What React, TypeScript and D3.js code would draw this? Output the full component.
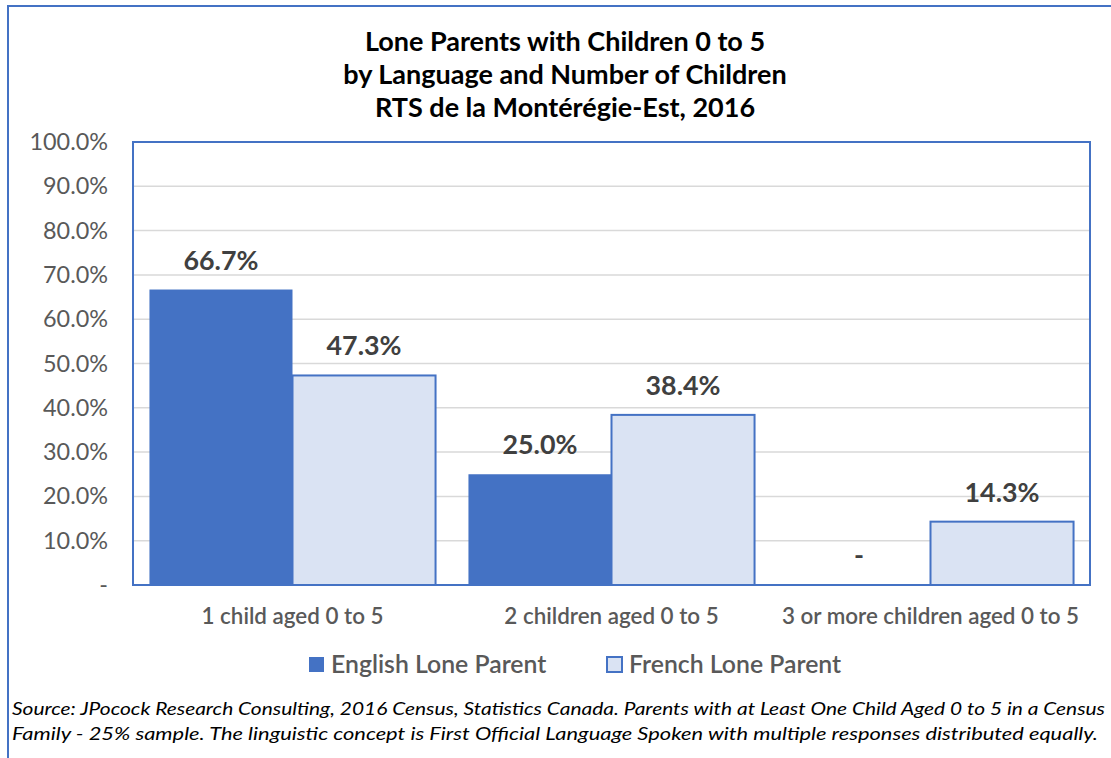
import React from "react";
import * as d3 from "d3";

const categories = ["1 child aged 0 to 5", "2 children aged 0 to 5", "3 or more children aged 0 to 5"];
const seriesNames = ["English Lone Parent", "French Lone Parent"];
const englishValues = [0.667, 0.25, 0];
const frenchValues = [0.473, 0.384, 0.143];
const yTicks = [0, 0.1, 0.2, 0.3, 0.4, 0.5, 0.6, 0.7, 0.8, 0.9, 1.0];
const titleLines = [
  "Lone Parents with Children 0 to 5",
  "by Language and Number of Children",
  "RTS de la Montérégie-Est, 2016",
];
const sourceLines = [
  "Source: JPocock Research Consulting, 2016 Census, Statistics Canada. Parents with at Least One Child Aged 0 to 5 in a Census",
  "Family - 25% sample. The linguistic concept is First Official Language Spoken with multiple responses distributed equally.",
];

const W = 1111;
const H = 758;
const BLUE = "#4472C4";
const LIGHT = "#DAE3F3";
const FONT = "Lato, 'Open Sans', sans-serif";

const plot = { left: 133, right: 1090, top: 142, bottom: 585 };

export default function App() {
  const x = d3.scaleBand<string>().domain(categories).range([plot.left, plot.right]).paddingInner(0).paddingOuter(0);
  const xs = d3.scaleBand<string>().domain(seriesNames).range([0, x.bandwidth()]).paddingInner(0).paddingOuter(0.115);
  const y = d3.scaleLinear().domain([0, 1]).range([plot.bottom, plot.top]);
  const tickFmt = (v: number) => (v === 0 ? "-" : d3.format(".1%")(v));
  const labelFmt = (v: number) => (v === 0 ? "-" : d3.format(".1%")(v));

  const series = [
    { name: seriesNames[0], values: englishValues, fill: BLUE, stroke: "none" },
    { name: seriesNames[1], values: frenchValues, fill: LIGHT, stroke: BLUE },
  ];

  const legendItems = [
    { name: seriesNames[0], fill: BLUE, stroke: "none", x: 309 },
    { name: seriesNames[1], fill: LIGHT, stroke: BLUE, x: 607 },
  ];

  return (
    <svg
      width={W}
      height={H}
      style={{ position: "absolute", left: 0, top: 0, display: "block", background: "#fff" }}
      fontFamily={FONT}
    >
      <rect x={0} y={0} width={W} height={H} fill="#fff" />
      {/* chart frame, cropped on the right and bottom */}
      <rect x={8} y={6} width={W + 50} height={H + 50} fill="none" stroke={BLUE} strokeWidth={2} />

      {/* title */}
      {titleLines.map((t, i) => (
        <text key={i} x={565} y={51 + i * 33} textAnchor="middle" fontSize={27} fontWeight={700} fill="#000">
          {t}
        </text>
      ))}

      {/* gridlines */}
      {yTicks.filter((v) => v > 0 && v < 1).map((v) => (
        <line key={v} x1={plot.left} x2={plot.right} y1={y(v)} y2={y(v)} stroke="#d9d9d9" strokeWidth={1.5} />
      ))}

      {/* y tick labels */}
      {yTicks.map((v) => (
        <text key={v} x={108} y={y(v) + 8} textAnchor="end" fontSize={23.4} fill="#595959">
          {tickFmt(v)}
        </text>
      ))}

      {/* bars */}
      {series.map((s) =>
        categories.map((c, i) => {
          const v = s.values[i];
          const bx = (x(c) ?? 0) + (xs(s.name) ?? 0);
          const bw = xs.bandwidth();
          return v > 0 ? (
            <rect
              key={s.name + c}
              x={bx}
              y={y(v)}
              width={bw}
              height={y(0) - y(v)}
              fill={s.fill}
              stroke={s.stroke}
              strokeWidth={s.stroke === "none" ? 0 : 2}
            />
          ) : null;
        })
      )}

      {/* plot area border */}
      <rect
        x={plot.left}
        y={plot.top}
        width={plot.right - plot.left}
        height={plot.bottom - plot.top}
        fill="none"
        stroke={BLUE}
        strokeWidth={2}
      />

      {/* data labels */}
      {series.map((s) =>
        categories.map((c, i) => {
          const v = s.values[i];
          const cx = (x(c) ?? 0) + (xs(s.name) ?? 0) + xs.bandwidth() / 2;
          return (
            <text key={"l" + s.name + c} x={cx} y={y(v) - 20} textAnchor="middle" fontSize={26.8} fontWeight={700} fill="#404040">
              {labelFmt(v)}
            </text>
          );
        })
      )}

      {/* category labels */}
      {categories.map((c) => (
        <text key={c} x={(x(c) ?? 0) + x.bandwidth() / 2} y={624} textAnchor="middle" fontSize={22.4} fontWeight={600} fill="#595959">
          {c}
        </text>
      ))}

      {/* legend */}
      {legendItems.map((l) => (
        <g key={l.name}>
          <rect x={l.x} y={657} width={15} height={15} fill={l.fill} stroke={l.stroke} strokeWidth={l.stroke === "none" ? 0 : 2} />
          <text x={l.x + 22} y={673} fontSize={24.8} fontWeight={600} fill="#595959">
            {l.name}
          </text>
        </g>
      ))}

      {/* source note */}
      <text x={12} y={715} fontSize={17.5} fontStyle="italic" fill="#000" textLength={1093} lengthAdjust="spacingAndGlyphs">
        {sourceLines[0]}
      </text>
      <text x={12} y={740} fontSize={17.5} fontStyle="italic" fill="#000" textLength={1086} lengthAdjust="spacingAndGlyphs">
        {sourceLines[1]}
      </text>
    </svg>
  );
}
